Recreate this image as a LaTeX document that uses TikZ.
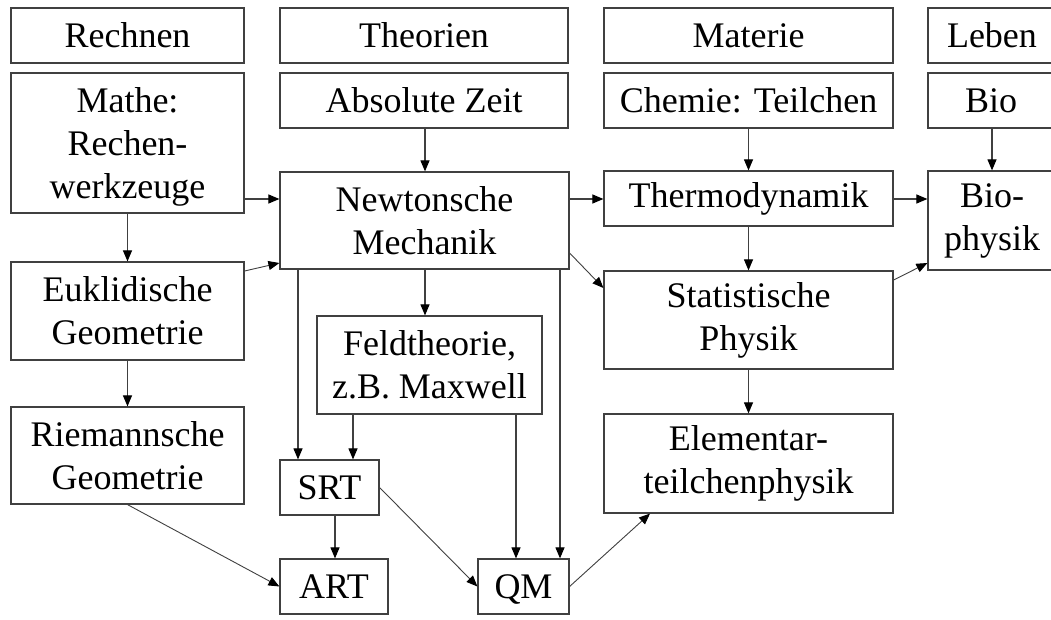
\documentclass[tikz,border=0pt]{standalone}
\usepackage{fontspec}
\setmainfont{Liberation Serif}
\usetikzlibrary{arrows.meta}
\definecolor{linegray}{HTML}{404040}
\tikzset{
  box/.style={draw=linegray, line width=1.2pt, rectangle, inner sep=0pt, align=center,
    font=\fontsize{36}{43}\selectfont, text=black},
  arr/.style={draw=linegray, line width=1.1pt, -{Triangle[length=11pt,width=9pt,color=black]}},
  thinarr/.style={draw=linegray, line width=0.9pt, -{Triangle[length=11pt,width=9pt,color=black]}}
}
\begin{document}
\begin{tikzpicture}[x=1pt,y=-1pt]
\useasboundingbox (0,0) rectangle (1051,620);
\fill[white] (0,0) rectangle (1051,620);
% top row
\node[box, minimum width=233, minimum height=55] (rechnen) at (127.5,35.5) {Rechnen};
\node[box, minimum width=288, minimum height=55] (theorien) at (424,35.5) {Theorien};
\node[box, minimum width=289, minimum height=55] (materie) at (748.5,35.5) {Materie};
\node[box, minimum width=132, minimum height=55, text width=132, align=left] (leben) at (994,35.5) {\hspace*{19pt}Leben};
% second row
\node[box, minimum width=233, minimum height=140, text depth=0pt] (mathe) at (127.5,143) {Mathe:\\Rechen-\\werkzeuge};
\node[box, minimum width=288, minimum height=55] (abszeit) at (424,100.5) {Absolute Zeit};
\node[box, minimum width=289, minimum height=55] (chemie) at (748.5,100.5) {Chemie: Teilchen};
\node[box, minimum width=132, minimum height=55, text width=132, align=left] (bio) at (994,100.5) {\hspace*{37pt}Bio};
% third row
\node[box, minimum width=289, minimum height=97] (newton) at (424.5,220.5) {Newtonsche\\Mechanik};
\node[box, minimum width=289, minimum height=55] (thermo) at (748.5,198.5) {Thermodynamik};
\node[box, minimum width=132, minimum height=99, text width=132, align=left] (biophysik) at (994,220.5) {\hspace*{32pt}Bio-\\\hspace*{16pt}physik};
% left column
\node[box, minimum width=233, minimum height=98] (euklid) at (127.5,311) {Euklidische\\Geometrie};
\node[box, minimum width=233, minimum height=97] (riemann) at (127.5,455.5) {Riemannsche\\Geometrie};
% middle
\node[box, minimum width=225, minimum height=98] (feld) at (429.5,365) {Feldtheorie,\\z.B. Maxwell};
\node[box, minimum width=99, minimum height=55] (srt) at (329.5,487.5) {SRT};
\node[box, minimum width=108, minimum height=55] (art) at (334,586.5) {ART};
\node[box, minimum width=91, minimum height=55, text depth=0pt] (qm) at (523.5,586.5) {QM};
% right column
\node[box, minimum width=289, minimum height=98] (stat) at (748.5,320) {Statistische\\Physik};
\node[box, minimum width=289, minimum height=99] (elem) at (748.5,463.5) {Elementar-\\teilchenphysik};
% helper coordinates
\coordinate (x127) at (127.5,0);
\coordinate (x298) at (298,0);
\coordinate (x353) at (353,0);
\coordinate (x335) at (335,0);
\coordinate (x516) at (516,0);
\coordinate (x560) at (560,0);
\coordinate (x425) at (425,0);
\coordinate (x749) at (748.5,0);
\coordinate (x994) at (992,0);
\coordinate (y199) at (0,199);
\coordinate (y271) at (0,271);
\coordinate (y263) at (0,263);
\coordinate (y253) at (0,253);
\coordinate (y288) at (0,288);
\coordinate (y280) at (0,280);
\coordinate (x650) at (650,0);
% arrows
\draw[arr] (mathe.south -| x127) -- (euklid.north -| x127);
\draw[arr] (euklid.south -| x127) -- (riemann.north -| x127);
\draw[arr] (mathe.east |- y199) -- (newton.west |- y199);
\draw[thinarr] (euklid.east |- y271) -- (newton.west |- y263);
\draw[arr] (abszeit.south -| x425) -- (newton.north -| x425);
\draw[arr] (newton.south -| x425) -- (feld.north -| x425);
\draw[arr] (newton.south -| x298) -- (srt.north -| x298);
\draw[arr] (feld.south -| x353) -- (srt.north -| x353);
\draw[arr] (srt.south -| x335) -- (art.north -| x335);
\draw[arr] (feld.south -| x516) -- (qm.north -| x516);
\draw[arr] (newton.south -| x560) -- (qm.north -| x560);
\draw[thinarr] (riemann.south) -- (art.west);
\draw[thinarr] (srt.east) -- (qm.west);
\draw[thinarr] (qm.east) -- (elem.south -| x650);
\draw[arr] (newton.east |- y199) -- (thermo.west |- y199);
\draw[arr] (thermo.east |- y199) -- (biophysik.west |- y199);
\draw[thinarr] (newton.east |- y253) -- (stat.west |- y288);
\draw[thinarr] (stat.east |- y280) -- (biophysik.west |- y263);
\draw[arr] (chemie.south -| x749) -- (thermo.north -| x749);
\draw[arr] (thermo.south -| x749) -- (stat.north -| x749);
\draw[arr] (stat.south -| x749) -- (elem.north -| x749);
\draw[arr] (bio.south -| x994) -- (biophysik.north -| x994);
\end{tikzpicture}
\end{document}
